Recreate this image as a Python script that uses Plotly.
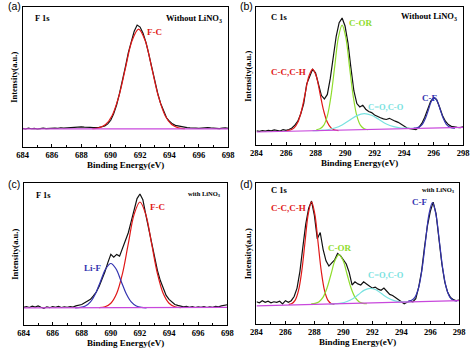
import numpy as np
import plotly.graph_objects as go

# ---------------- data ----------------
energy_F = np.round(np.arange(684.0, 698.001, 0.2), 1)
energy_C = np.round(np.arange(284.0, 298.001, 0.2), 1)

# (a) F 1s without LiNO3
a_raw = [0.005, 0.000, 0.008, 0.002, 0.006, 0.000, 0.004, 0.008, 0.003, 0.007,
         0.004, 0.009, 0.006, 0.012, 0.008, 0.010, 0.014, 0.012, 0.018, 0.022,
         0.020, 0.018, 0.020, 0.016, 0.014, 0.012, 0.016, 0.022, 0.030, 0.050,
         0.085, 0.150, 0.235, 0.350, 0.470, 0.610, 0.750, 0.870, 0.960, 1.020,
         1.000, 0.940, 0.850, 0.730, 0.600, 0.470, 0.350, 0.250, 0.170, 0.110,
         0.075, 0.050, 0.035, 0.028, 0.022, 0.018, 0.014, 0.010, 0.012, 0.008,
         0.006, 0.010, 0.007, 0.014, 0.010, 0.006, 0.009, 0.004, 0.008, 0.011,
         0.006]
a_FC_x = [688.75, 689.2, 689.65, 690.1, 690.55, 691.0, 691.45, 691.9, 692.35, 692.8,
          693.25, 693.7, 694.15, 694.6, 695.05]
a_FC_y = [0.002, 0.011, 0.043, 0.133, 0.318, 0.594, 0.865, 0.980, 0.865, 0.594,
          0.318, 0.133, 0.043, 0.011, 0.002]
a_base_x = [684, 698]
a_base_y = [0.0, 0.0]

# (b) C 1s without LiNO3
b_raw = [0.010, 0.006, 0.012, 0.008, 0.015, 0.010, 0.018, 0.012, 0.009, 0.020,
         0.014, 0.022, 0.035, 0.060, 0.095, 0.160, 0.250, 0.420, 0.480, 0.550,
         0.520, 0.420, 0.320, 0.290, 0.330, 0.470, 0.650, 0.840, 0.960, 1.000,
         0.930, 0.780, 0.560, 0.360, 0.250, 0.220, 0.235, 0.200, 0.180, 0.170,
         0.150, 0.135, 0.125, 0.115, 0.110, 0.120, 0.105, 0.095, 0.085, 0.070,
         0.050, 0.035, 0.030, 0.025, 0.022, 0.040, 0.075, 0.130, 0.200, 0.270,
         0.300, 0.285, 0.220, 0.145, 0.095, 0.065, 0.050, 0.042, 0.040, 0.038,
         0.045]
b_CC_x = [286.05, 286.3, 286.55, 286.8, 287.05, 287.3, 287.55, 287.8, 288.05, 288.3,
          288.55, 288.8, 289.05, 289.3, 289.55]
b_CC_y = [0.013, 0.018, 0.036, 0.085, 0.187, 0.340, 0.489, 0.552, 0.489, 0.340,
          0.187, 0.085, 0.036, 0.018, 0.013]
b_COR_x = [288.05, 288.3, 288.55, 288.8, 289.05, 289.3, 289.55, 289.8, 290.05, 290.3,
           290.55, 290.8, 291.05, 291.3, 291.55]
b_COR_y = [0.020, 0.028, 0.058, 0.142, 0.317, 0.576, 0.830, 0.938, 0.830, 0.576,
           0.317, 0.142, 0.058, 0.028, 0.020]
b_CO_x = [287.8, 288.3, 288.8, 289.3, 289.8, 290.3, 290.8, 291.3, 291.8, 292.3,
          292.8, 293.3, 293.8, 294.3, 294.8]
b_CO_y = [0.011, 0.015, 0.020, 0.035, 0.062, 0.104, 0.144, 0.162, 0.147, 0.110,
          0.071, 0.047, 0.035, 0.033, 0.032]
b_CF_x = [294.65, 294.85, 295.05, 295.25, 295.45, 295.65, 295.85, 296.05, 296.25, 296.45,
          296.65, 296.85, 297.05, 297.25, 297.45]
b_CF_y = [0.034, 0.036, 0.046, 0.070, 0.120, 0.195, 0.270, 0.301, 0.270, 0.195,
          0.120, 0.070, 0.046, 0.036, 0.034]
b_base_x = [284, 298]
b_base_y = [0.0, 0.041]

# (c) F 1s with LiNO3
c_raw = [0.005, 0.012, 0.004, 0.015, 0.008, 0.018, 0.006, -0.004, 0.010, 0.002,
         0.012, 0.006, 0.014, 0.004, 0.010, 0.006, 0.012, 0.008, 0.018, 0.022,
         0.030, 0.045, 0.060, 0.075, 0.105, 0.140, 0.190, 0.250, 0.320, 0.400,
         0.470, 0.445, 0.470, 0.455, 0.520, 0.600, 0.660, 0.760, 0.860, 0.960,
         1.000, 0.950, 0.820, 0.690, 0.570, 0.450, 0.330, 0.240, 0.170, 0.110,
         0.075, 0.050, 0.030, 0.022, 0.016, 0.010, 0.014, 0.006, 0.012, 0.004,
         0.010, 0.006, 0.012, 0.004, 0.010, 0.006, 0.014, 0.010, 0.018, 0.020,
         0.028]
c_FC_x = [689.2, 689.6, 690.0, 690.4, 690.8, 691.2, 691.6, 692.0, 692.4, 692.8,
          693.2, 693.6, 694.0, 694.4, 694.8]
c_FC_y = [0.002, 0.010, 0.041, 0.126, 0.302, 0.564, 0.821, 0.930, 0.821, 0.564,
          0.302, 0.126, 0.041, 0.010, 0.002]
c_LiF_x = [687.55, 687.9, 688.25, 688.6, 688.95, 689.3, 689.65, 690.0, 690.35, 690.7,
           691.05, 691.4, 691.75, 692.1, 692.45]
c_LiF_y = [0.001, 0.004, 0.017, 0.053, 0.127, 0.237, 0.344, 0.390, 0.344, 0.237,
           0.127, 0.053, 0.017, 0.004, 0.001]
c_base_x = [684, 698]
c_base_y = [0.0, 0.005]

# (d) C 1s with LiNO3
d_raw = [0.040, 0.030, 0.050, 0.035, 0.045, 0.030, 0.040, 0.035, 0.045, 0.020,
         0.050, 0.035, 0.050, 0.090, 0.170, 0.330, 0.560, 0.780, 0.930, 1.000,
         0.860, 0.640, 0.700, 0.540, 0.430, 0.380, 0.410, 0.440, 0.500, 0.480,
         0.440, 0.400, 0.320, 0.200, 0.230, 0.210, 0.200, 0.230, 0.210, 0.190,
         0.170, 0.180, 0.160, 0.150, 0.170, 0.140, 0.110, 0.100, 0.080, 0.060,
         0.040, 0.020, 0.035, 0.045, 0.040, 0.070, 0.180, 0.330, 0.560, 0.760,
         0.900, 0.990, 0.880, 0.640, 0.400, 0.230, 0.130, 0.080, 0.060, 0.050,
         0.055]
d_CC_x = [286.225, 286.45, 286.675, 286.9, 287.125, 287.35, 287.575, 287.8, 288.025, 288.25,
          288.475, 288.7, 288.925, 289.15, 289.375]
d_CC_y = [0.015, 0.024, 0.056, 0.146, 0.331, 0.607, 0.878, 0.993, 0.878, 0.607,
          0.331, 0.146, 0.056, 0.024, 0.015]
d_COR_x = [287.775, 288.05, 288.325, 288.6, 288.875, 289.15, 289.425, 289.7, 289.975, 290.25,
           290.525, 290.8, 291.075, 291.35, 291.625]
d_COR_y = [0.021, 0.025, 0.041, 0.084, 0.173, 0.305, 0.435, 0.490, 0.435, 0.305,
           0.173, 0.084, 0.041, 0.025, 0.021]
d_CO_x = [289.05, 289.45, 289.85, 290.25, 290.65, 291.05, 291.45, 291.85, 292.25, 292.65,
          293.05, 293.45, 293.85, 294.25, 294.65]
d_CO_y = [0.018, 0.022, 0.027, 0.042, 0.069, 0.110, 0.151, 0.168, 0.154, 0.116,
          0.078, 0.053, 0.041, 0.039, 0.038]
d_CF_x = [294.47, 294.71, 294.95, 295.19, 295.43, 295.67, 295.91, 296.15, 296.39, 296.63,
          296.87, 297.11, 297.35, 297.59, 297.83]
d_CF_y = [0.046, 0.054, 0.085, 0.171, 0.349, 0.614, 0.874, 0.984, 0.874, 0.614,
          0.349, 0.171, 0.085, 0.054, 0.046]
d_base_x = [284, 298]
d_base_y = [0.0, 0.05]

F_ticks = [684, 686, 688, 690, 692, 694, 696, 698]
C_ticks = [284, 286, 288, 290, 292, 294, 296, 298]

# ---------------- styles ----------------
RED = "#e01818"
GREEN = "#8fdc2c"
CYAN = "#78e2e0"
BLUE = "#3434b0"
PURPLE = "#c848dc"
BLACK = "#111111"
SERIF = "Liberation Serif"
SANS = "Liberation Sans"

W, H = 474, 350
# frames in pixels: (left, right, top, bottom)
frames = {
    "a": (17, 228, 7, 147),
    "b": (257, 469, 7, 145),
    "c": (18, 227, 183, 325),
    "d": (257, 465, 183, 324),
}
yranges = {"a": [-0.177, 1.197], "b": [-0.114, 1.097], "c": [-0.15, 1.097], "d": [-0.172, 1.172]}

fig = go.Figure()

panels = [
    ("a", "x", "y", energy_F, a_raw, [(a_FC_x, a_FC_y, RED)], (a_base_x, a_base_y)),
    ("b", "x2", "y2", energy_C, b_raw,
     [(b_CC_x, b_CC_y, RED), (b_COR_x, b_COR_y, GREEN), (b_CO_x, b_CO_y, CYAN), (b_CF_x, b_CF_y, BLUE)],
     (b_base_x, b_base_y)),
    ("c", "x3", "y3", energy_F, c_raw, [(c_FC_x, c_FC_y, RED), (c_LiF_x, c_LiF_y, BLUE)], (c_base_x, c_base_y)),
    ("d", "x4", "y4", energy_C, d_raw,
     [(d_CC_x, d_CC_y, RED), (d_COR_x, d_COR_y, GREEN), (d_CO_x, d_CO_y, CYAN), (d_CF_x, d_CF_y, BLUE)],
     (d_base_x, d_base_y)),
]

for key, xa, ya, ex, raw, comps, base in panels:
    fig.add_trace(go.Scatter(x=ex, y=raw, mode="lines", xaxis=xa, yaxis=ya,
                             line=dict(color=BLACK, width=1.2), showlegend=False, hoverinfo="skip"))
    for cx, cy, col in comps:
        fig.add_trace(go.Scatter(x=cx, y=cy, mode="lines", xaxis=xa, yaxis=ya,
                                 line=dict(color=col, width=1.2, shape="spline", smoothing=1.0),
                                 showlegend=False, hoverinfo="skip"))
    fig.add_trace(go.Scatter(x=base[0], y=base[1], mode="lines", xaxis=xa, yaxis=ya,
                             line=dict(color=PURPLE, width=1.2), showlegend=False, hoverinfo="skip"))

layout = dict(width=W, height=H, margin=dict(l=0, r=0, t=0, b=0),
              paper_bgcolor="white", plot_bgcolor="white", showlegend=False)

axis_ids = {"a": ("xaxis", "yaxis", "x", "y"), "b": ("xaxis2", "yaxis2", "x2", "y2"),
            "c": ("xaxis3", "yaxis3", "x3", "y3"), "d": ("xaxis4", "yaxis4", "x4", "y4")}
for key, (l, r, t, b) in frames.items():
    xn, yn, xr, yr = axis_ids[key]
    ticks = F_ticks if key in ("a", "c") else C_ticks
    layout[xn] = dict(domain=[l / W, r / W], anchor=yr, range=[ticks[0], ticks[-1]],
                      tickvals=ticks, ticks="inside", ticklen=3, tickwidth=1, tickcolor="black",
                      minor=dict(dtick=1, tick0=ticks[0], ticks="inside", ticklen=2, tickcolor="black"),
                      showline=True, linecolor="black", linewidth=1, mirror=True,
                      showgrid=False, zeroline=False,
                      tickfont=dict(family=SERIF, size=8.5, color="black", weight="bold"))
    layout[yn] = dict(domain=[1 - b / H, 1 - t / H], anchor=xr, range=yranges[key],
                      showticklabels=False, ticks="", showline=True, linecolor="black",
                      linewidth=1, mirror=True, showgrid=False, zeroline=False)
fig.update_layout(**layout)

ann = []


def txt(text, x, y, xref, yref, size=9, color="black", family=SERIF, xanchor="center",
        yanchor="middle", angle=0):
    ann.append(dict(text=text, x=x, y=y, xref=xref, yref=yref, showarrow=False,
                    font=dict(family=family, size=size, color=color), xanchor=xanchor,
                    yanchor=yanchor, textangle=angle))


# panel letters
txt("(a)", 0, 1 - 6 / H, "paper", "paper", size=10.5, family=SANS, xanchor="left")
txt("(b)", 238 / W, 1 - 6 / H, "paper", "paper", size=10.5, family=SANS, xanchor="left")
txt("(c)", 0, 1 - 184 / H, "paper", "paper", size=10.5, family=SANS, xanchor="left")
txt("(d)", 238 / W, 1 - 184 / H, "paper", "paper", size=10.5, family=SANS, xanchor="left")

# axis titles
for key, (l, r, t, b) in frames.items():
    xc = (l + r) / 2 / W
    ytit = 1 - (b + 18) / H
    txt("<b>Binding Energy(eV)</b>", xc, ytit, "paper", "paper", size=9)
    yc = 1 - (t + b) / 2 / H
    txt("<b>Intensity(a.u.)</b>", (l - 9) / W, yc, "paper", "paper", size=8.5, angle=-90)

# panel (a)
txt("<b>F 1s</b>", 0.05, 0.92, "x domain", "y domain", size=8.5, xanchor="left")
txt("<b>Without LiNO<sub>3</sub></b>", 0.98, 0.92, "x domain", "y domain", size=8.5, xanchor="right")
txt("<b>F-C</b>", 692.35, 0.82, "x", "y domain", size=9, color=RED, xanchor="left")

# panel (b)
txt("<b>C 1s</b>", 0.06, 0.93, "x2 domain", "y2 domain", size=8.5, xanchor="left")
txt("<b>Without LiNO<sub>3</sub></b>", 0.98, 0.93, "x2 domain", "y2 domain", size=8.5, xanchor="right")
txt("<b>C-OR</b>", 290.1, 0.885, "x2", "y2 domain", size=9, color=GREEN, xanchor="left")
txt("<b>C-C,C-H</b>", 286.2, 0.53, "x2", "y2 domain", size=9, color=RED)
txt("<b>C=O,C-O</b>", 292.8, 0.275, "x2", "y2 domain", size=8.5, color=CYAN)
txt("<b>C-F</b>", 295.75, 0.34, "x2", "y2 domain", size=9, color=BLUE)

# panel (c)
txt("<b>F 1s</b>", 0.05, 0.915, "x3 domain", "y3 domain", size=8.5, xanchor="left")
txt("<b>with LiNO<sub>3</sub></b>", 0.98, 0.925, "x3 domain", "y3 domain", size=6.5, xanchor="right")
txt("<b>F-C</b>", 692.55, 0.83, "x3", "y3 domain", size=9, color=RED, xanchor="left")
txt("<b>Li-F</b>", 688.75, 0.40, "x3", "y3 domain", size=9, color=BLUE)

# panel (d)
txt("<b>C 1s</b>", 0.06, 0.95, "x4 domain", "y4 domain", size=8.5, xanchor="left")
txt("<b>with LiNO<sub>3</sub></b>", 0.99, 0.95, "x4 domain", "y4 domain", size=6.5, xanchor="right")
txt("<b>C-C,C-H</b>", 286.2, 0.82, "x4", "y4 domain", size=9, color=RED)
txt("<b>C-F</b>", 295.25, 0.865, "x4", "y4 domain", size=9, color=BLUE)
txt("<b>C-OR</b>", 289.7, 0.54, "x4", "y4 domain", size=9, color=GREEN)
txt("<b>C=O,C-O</b>", 292.95, 0.35, "x4", "y4 domain", size=8.5, color=CYAN)

fig.update_layout(annotations=ann)
fig.write_html("out.html")
